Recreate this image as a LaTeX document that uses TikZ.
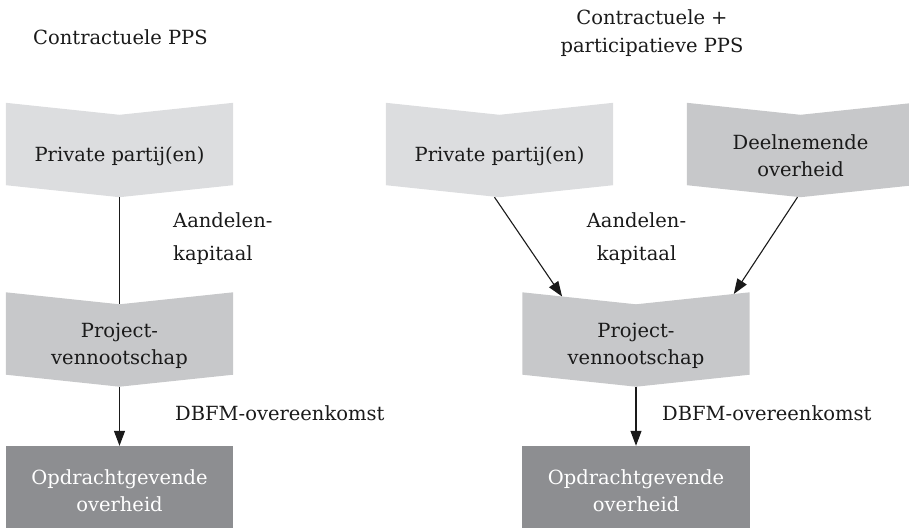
\documentclass[tikz,border=0pt]{standalone}
\usepackage{fontspec}
\setmainfont{DejaVu Serif}
\usetikzlibrary{arrows.meta,backgrounds,calc}

\definecolor{lichtgrijs}{HTML}{DCDDDF}
\definecolor{middengrijs}{HTML}{C7C8CA}
\definecolor{donkergrijs}{HTML}{8D8E91}
\definecolor{tekst}{HTML}{1A1A1A}

\tikzset{
  blok/.style={minimum width=227pt, minimum height=82pt, inner sep=0pt,
    align=center, text=tekst, font=\fontsize{19.5}{27}\selectfont},
  bijschrift/.style={inner sep=0pt, text=tekst, font=\fontsize{19.5}{33}\selectfont}
}

\begin{document}
\begin{tikzpicture}[x=1pt,y=-1pt]
  \useasboundingbox (0,0) rectangle (909,529);

  % titels
  \node [bijschrift, anchor=base west] (t1) at (33,45) {Contractuele PPS};
  \node [bijschrift, anchor=base, align=center, font=\fontsize{19.5}{28}\selectfont] (t2) at (652,53)
    {Contractuele +\\participatieve PPS};

  % contractuele PPS
  \begin{scope}[every node/.style={blok}]
    \node (pp1) at (119.5,156) {Private partij(en)};
    \node (pv1) at (119.5,345.5) {Project-\\vennootschap};
    \node [text=white] (og1) at (119.5,491) {Opdrachtgevende\\overheid};
  \end{scope}

  % contractuele + participatieve PPS
  \begin{scope}[every node/.style={blok}]
    \node (pp2) at (499.5,156) {Private partij(en)};
    \node (dn) at (800.5,156) {Deelnemende\\overheid};
    \node (pv2) at (636,345.5) {Project-\\vennootschap};
    \node [text=white] (og2) at (636,491) {Opdrachtgevende\\overheid};
  \end{scope}

  \begin{scope}[on background layer]
    \foreach \n/\c in {pp1/lichtgrijs, pv1/middengrijs, pp2/lichtgrijs, dn/middengrijs, pv2/middengrijs}
      \fill [\c] ([yshift=12pt]\n.north west) -- (\n.north) -- ([yshift=12pt]\n.north east)
        -- ([yshift=12pt]\n.south east) -- (\n.south) -- ([yshift=12pt]\n.south west) -- cycle;
    \foreach \n in {og1, og2}
      \fill [donkergrijs] ([yshift=4pt]\n.north west) rectangle ([yshift=4pt]\n.south east);
  \end{scope}

  % labels
  \node [bijschrift, anchor=base west, align=left] (ak1) at (173,260) {Aandelen-\\kapitaal};
  \node [bijschrift, anchor=base, align=center] (ak2) at (636.5,260) {Aandelen-\\kapitaal};
  \node [bijschrift, anchor=base west] (db1) at (175,420) {DBFM-overeenkomst};
  \node [bijschrift, anchor=base west] (db2) at (662,420) {DBFM-overeenkomst};

  \begin{scope}[every edge/.style={draw=tekst, line width=1.1pt}, >={Triangle[length=15pt,width=11pt]}]
    \path (pp1.south) edge (pv1.north);
    \path [->] (pv1.south) edge ([yshift=4pt]og1.north);
    \path [->] ([xshift=-5pt]pp2.south) edge ($(pv2.north)!0.65!([yshift=12pt]pv2.north west)$);
    \path [->] ([xshift=-3pt]dn.south) edge ($(pv2.north)!0.86!([yshift=12pt]pv2.north east)$);
    \path [->] (pv2.south) edge ([yshift=4pt]og2.north);
  \end{scope}
\end{tikzpicture}
\end{document}
